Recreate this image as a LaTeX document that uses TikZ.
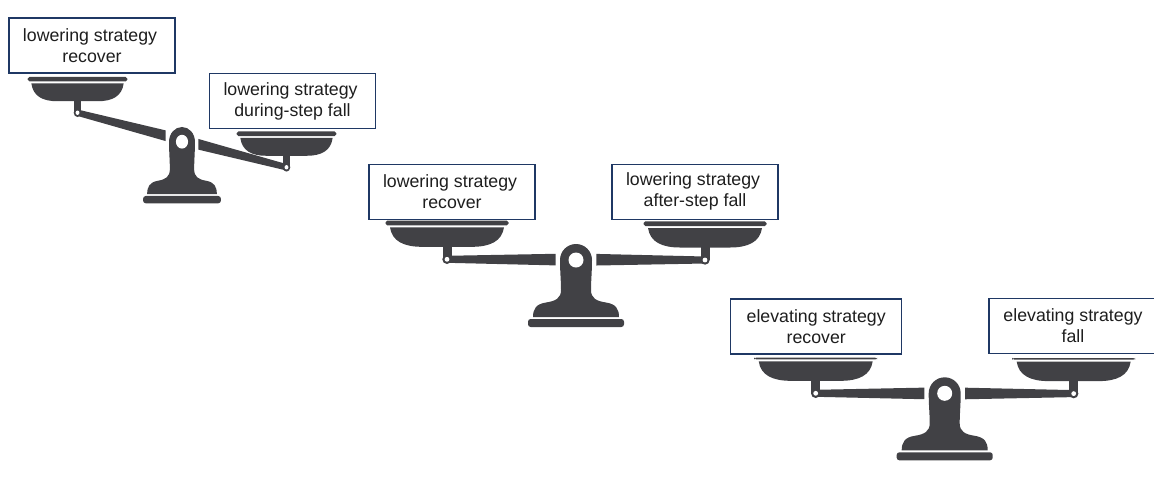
\documentclass[tikz,border=0pt]{standalone}
\usepackage{fontspec}
\setmainfont{Liberation Sans}
\usepackage{xcolor}
\usepackage{tikz}
\definecolor{scaledark}{HTML}{414145}
\definecolor{boxline}{HTML}{1F3864}
\definecolor{boxtext}{HTML}{1E1E1E}

% pivot x, pivot y, xscale, yscale, left pin y, right pin y, rim top
\newcommand{\drawbalance}[7]{
    \pgfmathsetmacro{\yleft}{#5+(#6-(#5))*0.421}
    \pgfmathsetmacro{\yright}{#5+(#6-(#5))*0.579}
    \begin{scope}[shift={(#1,#2)}, xscale=#3, yscale=#4]
        \fill[part] (-16,0) arc[start angle=180, end angle=360, radius=16] .. controls (16,12) and (15,20) .. (15,30)
            .. controls (15,38) and (20,41) .. (30,42.5) .. controls (40,44) and (43,49) .. (43,57)
            -- (-43,57) .. controls (-43,49) and (-40,44) .. (-30,42.5) .. controls (-20,41) and (-15,38) .. (-15,30)
            .. controls (-15,20) and (-16,12) .. cycle;
        \fill[part, rounded corners=1.5pt] (-48,59) rectangle (48,67);
        \fill[white] (0,0) circle (7.5);
        \fill[part] (-129,#5-3.5) -- (-20.3,\yleft-5.8) -- (-20.3,\yleft+5.8) -- (-129,#5+3.5) -- cycle;
        \fill[part] (129,#6-3.5) -- (20.3,\yright-5.8) -- (20.3,\yright+5.8) -- (129,#6+3.5) -- cycle;
        \foreach \px/\py in {-129/#5,129/#6} {
            \begin{scope}[shift={(\px,\py)}]
                \fill[part, rounded corners=1pt] (-61.5,#7) rectangle (61.5,-34);
                \fill[part] (-57,-32) -- (57,-32) .. controls (55,-18) and (43,-12.5) .. (25,-12.5)
                    -- (-25,-12.5) .. controls (-43,-12.5) and (-55,-18) .. cycle;
                \fill[part] (-4.5,-13) rectangle (4.5,0);
                \fill[part] (0,0) circle (4.7);
                \fill[white] (0,0) circle (2.4);
            \end{scope}
        }
    \end{scope}
}

\begin{document}
\begin{tikzpicture}[
    x=0.02cm, y=-0.02cm,
    part/.style={scaledark},
    label/.style={rectangle, draw=boxline, line width=0.6pt, fill=white, minimum width=3.32cm, minimum height=1.1cm, inner sep=0pt, align=center, text=boxtext, font=\fontsize{10.1}{11.9}\selectfont, execute at begin node={\rule{0pt}{9.4pt}}}
]
\useasboundingbox (0,0) rectangle (1154,488);

\drawbalance{182}{141.7}{0.81}{0.92}{-31.5}{27.8}{-39}
\drawbalance{576}{260}{1}{1}{-0.7}{0}{-38.6}
\drawbalance{944.7}{393.3}{1}{1}{0}{0.3}{-35.6}

\node[label] (recover0) at (92,45.5) {lowering strategy\hspace*{2.2pt}\\recover};
\node[label] (fall0) at (292.5,101) {lowering strategy\hspace*{2.2pt}\\during-step fall};
\node[label] (recover1) at (452,191.7) {lowering strategy\hspace*{2.2pt}\\recover};
\node[label] (fall1) at (695,191.7) {lowering strategy\hspace*{2.2pt}\\after-step fall};
\node[label, minimum width=3.42cm] (recover2) at (816.2,326.5) {elevating strategy\\recover};
\node[label, minimum width=3.36cm] (fall2) at (1073,326) {elevating strategy\\fall};

\end{tikzpicture}
\end{document}
